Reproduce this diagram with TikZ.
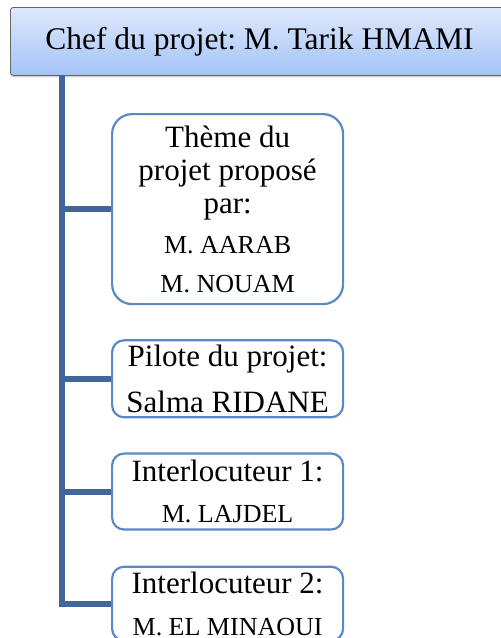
\documentclass[tikz,border=0pt]{standalone}
\usepackage{fontspec}
\setmainfont{Liberation Serif}
\usetikzlibrary{positioning,shadows}
\definecolor{boxblue}{HTML}{5A8AC6}
\definecolor{trunkblue}{HTML}{41679A}
\definecolor{cheftop}{HTML}{DFE9FB}
\definecolor{chefbottom}{HTML}{A3C3F7}

\begin{document}
\frenchspacing
\begin{tikzpicture}[x=1pt,y=-1pt,node distance=34pt,
    chef/.style={draw=black!60,line width=0.8pt,rounded corners=3pt,
      top color=cheftop,bottom color=chefbottom,
      drop shadow={shadow xshift=0pt,shadow yshift=-2pt,opacity=0.35},
      minimum width=498pt,minimum height=68pt,anchor=north west,
      font=\fontsize{31.5}{36}\selectfont},
    role/.style={draw=boxblue,line width=2.2pt,fill=white,rounded corners=12pt,
      text width=227pt,inner xsep=2pt,inner ysep=0pt,align=flush center,
      font=\fontsize{31}{36}\selectfont},
    trunk/.style={draw=trunkblue,line width=6pt}]
  \useasboundingbox (0,0) rectangle (501,638);
  \clip (0,0) rectangle (501,638);

  \node[chef] (chef) at (10,7) {Chef du projet: M. Tarik HMAMI};
  \node[role,rounded corners=20pt,minimum height=190pt,anchor=north west,
    font=\fontsize{31}{33}\selectfont] (theme) at (111,113)
    {Thème du\\projet proposé\\par:\\[7pt]{\fontsize{26}{30}\selectfont M. AARAB}\\[6pt]{\fontsize{26}{30}\selectfont M. NOUAM}};
  \node[role,minimum height=77pt,below=of theme] (pilote)
    {Pilote du projet:\\[10pt]Salma RIDANE};
  \node[role,minimum height=76pt,below=of pilote] (inter1)
    {Interlocuteur 1:\\[5pt]{\fontsize{26}{30}\selectfont M. LAJDEL}};
  \node[role,minimum height=74pt,below=35pt of inter1] (inter2)
    {Interlocuteur 2:\\[6pt]{\fontsize{26}{30}\selectfont M. EL MINAOUI}};

  \coordinate (top) at (62,75);
  \draw[trunk] (top) |- (inter2.west);
  \draw[trunk] (top |- theme.west) -- (theme.west);
  \draw[trunk] (top |- pilote.west) -- (pilote.west);
  \draw[trunk] (top |- inter1.west) -- (inter1.west);
\end{tikzpicture}
\end{document}
